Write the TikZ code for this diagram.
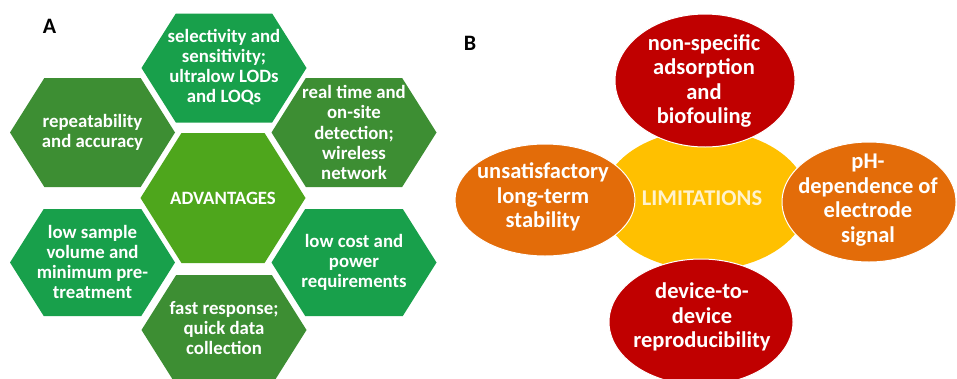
\documentclass[tikz,border=0pt]{standalone}
\usepackage{fontspec}
\setmainfont{Carlito}
\usetikzlibrary{shapes.geometric}
\definecolor{gbright}{RGB}{24,160,75}
\definecolor{gdark}{RGB}{61,142,51}
\definecolor{gadv}{RGB}{78,166,28}
\definecolor{limred}{RGB}{192,0,0}
\definecolor{limorange}{RGB}{227,108,9}
\definecolor{limyellow}{RGB}{255,192,0}
\definecolor{limtext}{RGB}{255,242,204}
\newcommand\hexa[4]{%
  \fill[#4] ({#1-82.5},#2) -- ({#1-82.5+0.63*#3},{#2-#3}) -- ({#1+82.5-0.63*#3},{#2-#3})
    -- ({#1+82.5},#2) -- ({#1+82.5-0.63*#3},{#2+#3}) -- ({#1-82.5+0.63*#3},{#2+#3}) -- cycle;}
\tikzset{
  hextext/.style={align=center, text=white, inner sep=0pt,
    font=\bfseries\fontsize{18.8}{20.2}\selectfont},
  elltext/.style={align=center, text=white, inner sep=0pt,
    font=\bfseries\fontsize{22.5}{24.5}\selectfont},
  panel/.style={inner sep=0pt, font=\bfseries\fontsize{22}{24}\selectfont},
  ellborder/.style={draw=white, line width=1pt}
}
\begin{document}
\begin{tikzpicture}[x=1pt,y=-1pt]
\useasboundingbox (0,0) rectangle (957,378);
% Panel A
\node[panel] (A) at (49.5,26) {A};
\hexa{224}{68}{54.5}{gbright}
\hexa{223}{198}{65}{gadv}
\hexa{224}{330}{55}{gdark}
\hexa{92.5}{132.5}{54.5}{gdark}
\hexa{92.5}{262.5}{53.5}{gbright}
\hexa{354}{132.5}{54.5}{gdark}
\hexa{354}{262.5}{53.5}{gbright}
\node[hextext] (sel) at (224,67) {selectivity and\\sensitivity;\\ultralow LODs\\and LOQs};
\node[hextext] (adv) at (223,198) {ADVANTAGES};
\node[hextext] (fast) at (224,328) {fast response;\\quick data\\collection};
\node[hextext] (rep) at (92.5,132) {repeatability\\and accuracy};
\node[hextext] (low) at (92.5,262) {low sample\\volume and\\minimum pre-\\treatment};
\node[hextext] (real) at (354,132.5) {real time and\\on-site\\detection;\\wireless\\network};
\node[hextext] (cost) at (354,262.5) {low cost and\\power\\requirements};
% Panel B
\node[panel] (B) at (470,43.5) {B};
\fill[limyellow] (705,200) ellipse [x radius=103pt, y radius=70pt];
\filldraw[limorange, ellborder] (545,200) ellipse [x radius=90pt, y radius=56pt];
\filldraw[limorange, ellborder] (869,202) ellipse [x radius=87pt, y radius=60pt];
\filldraw[limred, ellborder] (705,80.5) ellipse [x radius=90pt, y radius=66.5pt];
\filldraw[limred, ellborder] (701,322) ellipse [x radius=92pt, y radius=63pt];
\node[elltext, text=limtext] (lim) at (702,198) {LIMITATIONS};
\node[elltext] (nsa) at (704,81) {non-specific\\adsorption\\and\\biofouling};
\node[elltext] (uns) at (543,197) {unsatisfactory\\long-term\\stability};
\node[elltext] (ph) at (868,200) {pH-\\dependence of\\electrode\\signal};
\node[elltext] (dev) at (702,317) {device-to-\\device\\reproducibility};
\end{tikzpicture}
\end{document}
